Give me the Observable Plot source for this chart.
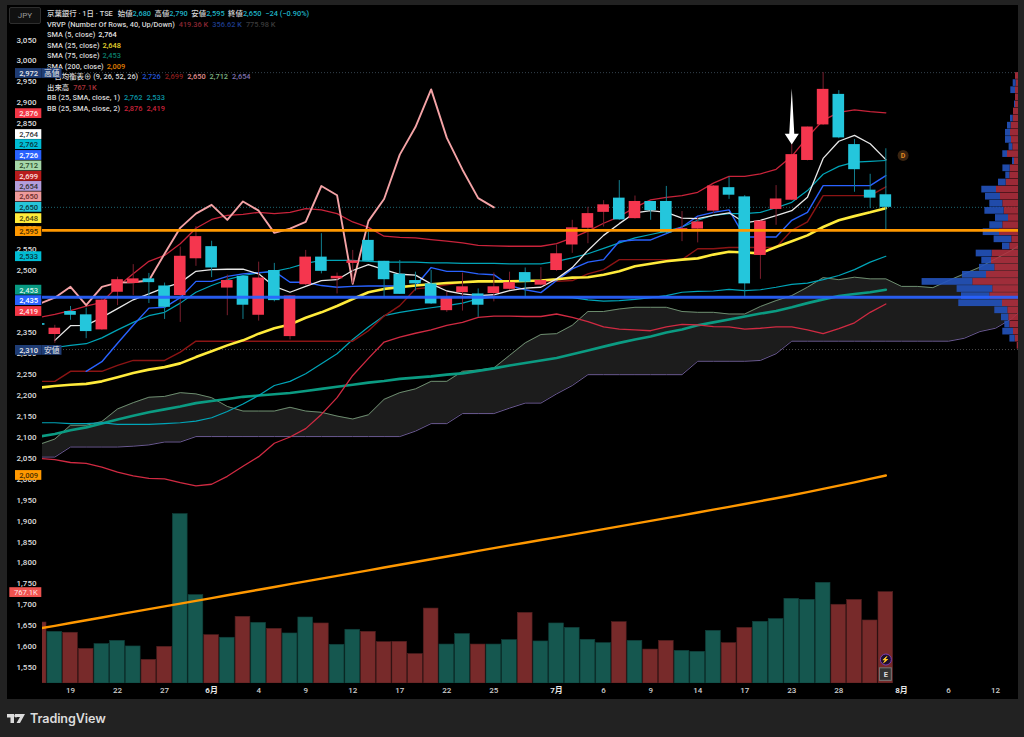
<!DOCTYPE html>
<html lang="ja">
<head>
<meta charset="utf-8">
<script src="https://cdn.jsdelivr.net/npm/d3@7"></script>
<script src="https://cdn.jsdelivr.net/npm/@observablehq/plot@0.6"></script>
<style>
html,body{margin:0;padding:0;background:#222;}
#page{position:relative;width:1024px;height:737px;overflow:hidden;background:#222;font-family:Roboto,"Noto Sans CJK JP","Noto Sans",sans-serif;}
#pane{position:absolute;left:7px;top:5px;width:1011px;height:694px;background:#000;}
#jpy{position:absolute;left:9px;top:7px;width:30px;height:15px;border:1px solid #2e2e2e;border-radius:2px;color:#9a9a9a;font-size:8px;line-height:15px;text-align:center;background:#111;}
#legend div{position:absolute;left:47px;font-size:7.4px;line-height:10px;color:#d8d8d8;white-space:pre;font-weight:500;}
#legend span{margin-left:3px;}
#chart{position:absolute;left:0;top:0;}
#chart svg{display:block;background:transparent;}
#logo{position:absolute;left:7px;top:709px;height:18px;display:flex;align-items:center;color:#dcdcdc;font-size:12.6px;font-weight:600;font-family:Inter,"Noto Sans",sans-serif;letter-spacing:-.1px;}
#logo svg{margin-right:5px;}
</style>
</head>
<body>
<div id="page">
  <div id="pane"></div>
  <div id="legend">
    <div style="top:9px">京葉銀行 · 1日 · TSE<span style="margin-left:5px">始値</span><span style="color:#1fb3c6;margin-left:0">2,680</span><span style="margin-left:3.5px">高値</span><span style="color:#1fb3c6;margin-left:0">2,790</span><span style="margin-left:3.5px">安値</span><span style="color:#1fb3c6;margin-left:0">2,595</span><span style="margin-left:3.5px">終値</span><span style="color:#1fb3c6;margin-left:0">2,650</span><span style="color:#1fb3c6;margin-left:4px">−24 (−0.90%)</span></div>
    <div style="top:19.5px">VRVP (Number Of Rows, 40, Up/Down)<span style="color:#8a2733;margin-left:4px">419.36 K</span><span style="color:#1e3c8c;margin-left:4px">356.62 K</span><span style="color:#3a3a3a;margin-left:4px">775.98 K</span></div>
    <div style="top:30px">SMA (5, close)<span style="color:#e8e8e8">2,764</span></div>
    <div style="top:40.5px">SMA (25, close)<span style="color:#e6d72e">2,648</span></div>
    <div style="top:51px">SMA (75, close)<span style="color:#0b7f6c">2,453</span></div>
    <div style="top:61.5px">SMA (200, close)<span style="color:#e07f00">2,009</span></div>
    <div style="top:72px">一目均衡表⊕ (9, 26, 52, 26)<span style="color:#2454d6;margin-left:4px">2,726</span><span style="color:#8c1d1d;margin-left:4px">2,699</span><span style="color:#e08e8e;margin-left:4px">2,650</span><span style="color:#7fb583;margin-left:4px">2,712</span><span style="color:#7f70ad;margin-left:4px">2,654</span></div>
    <div style="top:82.5px">出来高<span style="color:#a8323a;margin-left:4px">767.1K</span></div>
    <div style="top:93px">BB (25, SMA, close, 1)<span style="color:#0b95a6;margin-left:4px">2,762</span><span style="color:#0b95a6;margin-left:4px">2,533</span></div>
    <div style="top:103.5px">BB (25, SMA, close, 2)<span style="color:#c8233a;margin-left:4px">2,876</span><span style="color:#c8233a;margin-left:4px">2,419</span></div>
  </div>
  <div id="jpy">JPY</div>
  <div id="chart"></div>
  <div id="logo">
    <svg width="18" height="9" viewBox="0 0 36 18"><path d="M0 0h14v18h-7V7H0z M16 0h20l-10 18h-7l7-12h-10z" fill="#dcdcdc"/><circle cx="18" cy="3.5" r="3.5" fill="#dcdcdc"/></svg>
    TradingView
  </div>
</div>
<script>
// Bars: index 0 is the clipped bar at the left edge, 54 the last session
const opens = [2372,
  2346,2401,2393,2357,2447,2468,2479,2462,2439,2527,
  2556,2457,2485,2392,2499,2341,2465,2531,2479,2516,
  2571,2521,2490,2475,2467,2403,2446,2443,2444,2454,
  2494,2464,2499,2560,2600,2638,2672,2623,2664,2664,
  2594,2598,2641,2697,2675,2535,2645,2667,2762,2847,
  2920,2800,2691,2680];
const closes = [2368,
  2361,2392,2353,2428,2477,2479,2470,2411,2533,2580,
  2505,2475,2416,2481,2427,2438,2531,2497,2485,2522,
  2521,2477,2442,2467,2419,2434,2460,2416,2460,2470,
  2471,2475,2539,2601,2635,2656,2620,2664,2642,2589,
  2599,2615,2701,2679,2467,2617,2670,2776,2842,2932,
  2816,2740,2672,2650];
const highs = [2372,
  2368,2413,2409,2434,2483,2513,2492,2469,2555,2604,
  2569,2488,2485,2519,2516,2438,2547,2587,2493,2547,
  2591,2521,2523,2495,2499,2447,2493,2455,2493,2495,
  2505,2506,2560,2619,2650,2666,2714,2677,2664,2700,
  2640,2626,2702,2722,2678,2617,2702,2800,2842,2972,
  2929,2812,2729,2790];
const lows = [2368,
  2325,2380,2336,2356,2415,2439,2420,2382,2375,2509,
  2482,2391,2382,2378,2424,2333,2463,2491,2443,2467,
  2519,2435,2442,2450,2418,2399,2402,2387,2424,2451,
  2432,2462,2497,2540,2563,2603,2619,2622,2619,2587,
  2568,2565,2635,2669,2434,2478,2607,2666,2761,2846,
  2814,2686,2647,2595];

const sma5 = [null,2332,2367,2368,2387,2408,2429,2443,2458,2470,2497,2501,2502,2502,2491,2461,2447,2461,2475,2477,2499,2513,2501,2490,2488,2467,2450,2443,2439,2441,2451,2457,2459,2479,2506,2547,2583,2611,2637,2642,2638,2624,2623,2631,2637,2613,2619,2630,2642,2674,2767,2808,2822,2802,2764];
const sma25 = [2219,2223,2226,2228,2234,2244,2254,2262,2268,2277,2292,2306,2320,2332,2348,2361,2370,2386,2399,2414,2431,2447,2455,2459,2463,2466,2469,2471,2473,2473,2473,2474,2475,2478,2482,2483,2489,2497,2509,2515,2521,2525,2528,2537,2544,2542,2540,2555,2569,2583,2603,2619,2629,2638,2648];
const sma75 = [2102,2108,2117,2124,2133,2143,2152,2160,2167,2174,2182,2187,2192,2197,2200,2203,2206,2211,2216,2221,2226,2231,2235,2240,2243,2246,2250,2253,2259,2265,2272,2278,2284,2290,2299,2308,2317,2326,2334,2341,2351,2358,2368,2375,2382,2389,2396,2402,2411,2421,2430,2438,2443,2447,2453];
const sma200 = [1643,1649.6,1656.3,1662.9,1669.5,1676.2,1682.8,1689.4,1696,1702.7,1709.3,1715.9,1722.6,1729.2,1735.8,1742.5,1749.1,1755.7,1762.3,1769,1775.6,1782.2,1788.9,1795.5,1802.1,1808.8,1815.4,1822,1828.6,1835.3,1841.9,1848.3,1854.7,1861.1,1867.6,1874.1,1880.6,1887.2,1893.8,1900.4,1907,1913.7,1920.4,1927.2,1934,1940.8,1947.7,1954.6,1961.8,1969.2,1976.8,1984.6,1992.6,2000.8,2009];

const bbUp2 = [2387,2394,2403,2414,2423,2461,2491,2521,2535,2563,2600,2621,2631,2633,2638,2635,2638,2647,2644,2635,2615,2602,2581,2578,2577,2573,2569,2565,2559,2558,2557,2557,2557,2563,2577,2593,2612,2628,2650,2668,2674,2678,2686,2708,2724,2724,2730,2741,2772,2818,2858,2877,2883,2879,2876];
const bbLo2 = [2050,2047,2040,2038,2029,2017,2008,2002,2001,1992,1984,1988,2007,2031,2054,2086,2101,2121,2155,2195,2248,2289,2328,2340,2349,2357,2368,2375,2387,2390,2390,2389,2389,2395,2387,2377,2364,2359,2357,2355,2364,2370,2369,2365,2364,2359,2361,2364,2364,2357,2348,2360,2374,2399,2419];
const bbUp1 = [2313,2315,2320,2324,2338,2357,2375,2391,2399,2421,2447,2463,2477,2487,2493,2497,2505,2516,2523,2523,2523,2521,2519,2519,2519,2517,2517,2516,2516,2516,2515,2515,2515,2521,2529,2539,2552,2565,2577,2585,2593,2603,2619,2631,2635,2635,2638,2649,2662,2690,2729,2748,2758,2760,2762];
const bbLo1 = [2135,2135,2133,2133,2135,2131,2131,2131,2133,2135,2139,2147,2162,2180,2200,2224,2234,2252,2276,2300,2334,2364,2391,2399,2405,2410,2415,2421,2431,2436,2436,2435,2435,2435,2434,2429,2426,2427,2430,2434,2439,2447,2449,2450,2454,2451,2453,2459,2466,2469,2477,2487,2501,2519,2533];

const tenkan = [null,null,null,2258,2281,2325,2368,2409,2411,2434,2473,2473,2485,2491,2494,2497,2471,2471,2463,2459,2461,2462,2462,2462,2462,2506,2497,2497,2491,2489,2463,2453,2446,2475,2503,2519,2525,2569,2572,2572,2587,2603,2629,2638,2644,2579,2579,2579,2619,2638,2702,2702,2702,2702,2726];
const kijun = [2234,2234,2258,2258,2258,2272,2284,2284,2284,2304,2330,2330,2330,2330,2330,2330,2330,2330,2330,2330,2330,2355,2390,2415,2455,2459,2465,2470,2473,2473,2473,2473,2473,2473,2475,2491,2501,2525,2525,2525,2525,2525,2551,2551,2554,2554,2554,2554,2595,2615,2678,2678,2678,2678,2699];
const spanA = [2083,2096,2129,2129,2138,2168,2183,2196,2198,2207,2204,2195,2174,2163,2163,2163,2172,2163,2160,2151,2144,2154,2191,2207,2216,2234,2234,2258,2261,2266,2296,2326,2346,2348,2368,2401,2401,2407,2411,2411,2411,2401,2399,2399,2395,2395,2413,2427,2439,2459,2482,2477,2483,2479,2479,2461,2461,2458,2475,2491,2507,2527,2547,2571];
const spanB = [2053,2053,2077,2077,2077,2077,2079,2082,2089,2089,2102,2102,2102,2102,2102,2102,2102,2102,2102,2102,2102,2102,2102,2102,2115,2133,2133,2157,2157,2157,2170,2182,2182,2204,2224,2250,2250,2250,2250,2250,2250,2250,2282,2282,2282,2282,2284,2300,2330,2330,2330,2330,2330,2330,2330,2330,2330,2330,2330,2337,2353,2361,2383,2415];
// Lagging line: each session's close, drawn 25 bars earlier
const chikou = closes.slice(25);

// Volume in thousands, with its colour as shown on the volume pane
const volumes = [512,434,426,291,331,358,311,199,308,1422,742,406,384,560,509,459,420,554,504,325,451,434,347,350,247,629,327,415,327,327,364,593,353,504,467,367,339,515,358,285,358,274,266,442,339,467,518,541,711,702,845,661,702,529,767.1];
const volumeSides = "rtrrtttrrttrtrtrttrttrrrrrttrttrtttttrtrrtttrrtttttrrrr".split("");

// Visible-range volume profile, one entry per price row from the top
const vrvpUp = [3,2.3,3,3,3,5,5.3,7.3,8,7,5.7,11,4,8.3,8.7,12.3,22,18,15.7,14.3,10,15.7,19,6.7,8.7,26.3,27,23.7,32,45.7,25.7,28.7,16,10.7,9.7,8.7,5,3.3,1.3];
const vrvpDown = [0,3,4.7,0,1,0,2.7,3.7,5,6,3.7,4.7,2,7.3,4,7.7,14.7,15,13,19.3,13,13,16.3,17.7,7.3,16,9.7,15.3,24,50.7,35.7,28.3,43.7,13,7.3,5,10.7,5.3,0];
const vrvpTop = 2972, vrvpBottom = 2310;

// Labels the reference leaves fully hidden behind its price tags are not listed
const priceTicks = [3050,3000,2950,2900,2850,2600,2550,2500,2350,2300,2250,2200,2150,2100,2050,2000,1950,1900,1850,1800,1750,1700,1650,1600,1550];
const dayTickBars = [2,5,8,14,17,20,23,26,29,36,39,42,45,48,51,58,61];
const dayTickLabels = ["19","22","27","4","9","12","17","22","25","6","9","14","17","23","28","6","12"];
const monthTickBars = [11,33,55];
const monthTickLabels = ["6月","7月","8月"];

// Price tags on the left axis; "at" is where the tag sits after stacking
const tagLabels = ["2,972","2,876","2,764","2,762","2,726","2,712","2,699","2,654","2,650","2,650","2,648","2,595","2,533","2,453","2,435","2,419","2,310","2,009"];
const tagAt     = [2970,2874,2824,2800,2774,2749,2724,2700,2675,2650,2623,2592,2532,2452,2427,2401,2308,2009];
const tagFills  = ["#1f3c74","#f23645","#ffffff","#00bcd4","#2962ff","#a5d6a7","#b71c1c","#b39ddb","#ef9a9a","#26c6da","#ffeb3b","#ff9800","#00bcd4","#089981","#2962ff","#f23645","#1f3c74","#ff9800"];
const tagInks   = ["#e8e8e8","#ffe6e6","#333333","#08363d","#ffffff","#2a4a2a","#ffe0e0","#333333","#6a2d2d","#08363d","#4a4510","#4a2f00","#08363d","#d5f2ea","#ffffff","#ffe6e6","#e8e8e8","#4a2f00"];
const extremeTags = [{at:2970, text:"高値"},{at:2308, text:"安値"}];

const xDomain = [0.214, 62.46];
const yDomain = [1511.7, 3132.5];
const bars = d3.range(55);
const cloudBars = d3.range(64);
const isUp = i => closes[i] > opens[i];
const volumeTop = k => yDomain[0] + k * 0.2848;
const barSpan = 15.68;           // one bar in pixels, used to size profile rows
const rowStep = (vrvpTop - vrvpBottom) / vrvpUp.length;
const rows = d3.range(vrvpUp.length);

const line = (values, stroke, strokeWidth) =>
  Plot.line(values, {x: (d, i) => i, y: d => d, stroke, strokeWidth, clip: true, curve: "linear", strokeLinejoin: "round"});

const axisFont = {fontSize: 8, fontWeight: 500};
const tagRows = tagLabels.map((text, i) => ({text, at: tagAt[i], fill: tagFills[i], ink: tagInks[i]}));
const arrowOutline = [[48,2934],[48.16,2826],[48.45,2826],[48,2800],[47.55,2826],[47.84,2826]];

const chart = Plot.plot({
  width: 1024, height: 737,
  marginLeft: 42, marginRight: 6, marginTop: 5, marginBottom: 54,
  style: {background: "transparent", fontFamily: 'Roboto,"Noto Sans CJK JP","Noto Sans",sans-serif', overflow: "visible"},
  x: {type: "linear", domain: xDomain, label: null},
  y: {type: "linear", domain: yDomain, label: null},
  color: {type: "identity"},
  marks: [
    Plot.axisY({ticks: priceTicks, tickFormat: d3.format(","), anchor: "left", tickSize: 0, tickPadding: 6, label: null, fill: "#dddddd", ...axisFont}),
    Plot.axisX({ticks: dayTickBars, tickFormat: i => dayTickLabels[dayTickBars.indexOf(i)], anchor: "bottom", tickSize: 0, tickPadding: 4, label: null, fill: "#cfcfcf", ...axisFont}),
    Plot.axisX({ticks: monthTickBars, tickFormat: i => monthTickLabels[monthTickBars.indexOf(i)], anchor: "bottom", tickSize: 0, tickPadding: 4, label: null, fill: "#e6e6e6", fontSize: 8, fontWeight: 700}),

    Plot.ruleY([2972], {stroke: "#33404c", strokeDasharray: "1,2", clip: true}),
    Plot.ruleY([2650], {stroke: "#1c6470", strokeDasharray: "1,2", clip: true}),
    Plot.ruleY([2310], {stroke: "#4a4a4a", strokeDasharray: "1,2", clip: true}),

    // Volume pane, sitting on the same vertical axis
    Plot.rect(bars, {x1: i => i - 0.47, x2: i => i + 0.47, y1: () => yDomain[0], y2: i => volumeTop(volumes[i]),
      fill: i => volumeSides[i] === "r" ? "#772a2a" : "#15574f", stroke: i => volumeSides[i] === "r" ? "#4f1f1f" : "#103f3a", strokeWidth: 0.6, clip: true}),

    // Ichimoku cloud
    Plot.areaY(cloudBars, {x: i => i, y1: i => spanA[i], y2: i => spanB[i], fill: "#1c1c1c", clip: true}),
    line(spanB, "#6a5a90", 1),
    line(spanA, "#6c8c6e", 1),

    line(sma200, "#ff9800", 2.4),
    line(sma75, "#0b9b82", 2.6),
    line(bbLo2, "#d02a42", 1.3),
    line(bbUp2, "#c8233a", 1.3),
    line(bbLo1, "#00a5b8", 1.2),
    line(bbUp1, "#00a5b8", 1.2),
    line(kijun, "#8c1414", 1.4),
    line(tenkan, "#2962ff", 1.4),
    line(sma25, "#ffeb3b", 2.6),
    line(chikou, "#f4a3a6", 1.9),
    line(sma5, "#e8e8e8", 1.3),

    // Volume profile
    Plot.rect(rows, {x1: i => xDomain[1] - vrvpUp[i] / barSpan, x2: () => xDomain[1], y1: i => vrvpTop - i * rowStep, y2: i => vrvpTop - (i + 1) * rowStep, fill: "#b2303f", fillOpacity: 0.88, insetBottom: 0.4, clip: true}),
    Plot.rect(rows, {x1: i => xDomain[1] - (vrvpUp[i] + vrvpDown[i]) / barSpan, x2: i => xDomain[1] - vrvpUp[i] / barSpan, y1: i => vrvpTop - i * rowStep, y2: i => vrvpTop - (i + 1) * rowStep, fill: "#2453bd", fillOpacity: 0.9, insetBottom: 0.4, clip: true}),

    // Candles
    Plot.ruleX(bars, {x: i => i, y1: i => lows[i], y2: i => highs[i], stroke: i => isUp(i) ? "#7a1f2e" : "#127f8f", strokeWidth: 1, clip: true}),
    Plot.rect(bars, {x1: i => i - 0.37, x2: i => i + 0.37, y1: i => opens[i], y2: i => closes[i], fill: i => isUp(i) ? "#f5364e" : "#24c6dc", clip: true}),

    // Horizontal levels drawn by the author
    Plot.ruleY([2595], {stroke: "#ff9800", strokeWidth: 2.6, clip: true}),
    Plot.ruleY([2435], {stroke: "#2962ff", strokeWidth: 2.8, strokeOpacity: 0.92, clip: true}),

    // Annotation arrow
    Plot.line(arrowOutline, {x: d => d[0], y: d => d[1], fill: "#ffffff", stroke: "none"}),

    // Bar badges
    Plot.dot([0], {x: () => 55.1, y: () => 2774, r: 5.5, fill: "#3a2410", stroke: "none"}),
    Plot.text([0], {x: () => 55.1, y: () => 2774, text: () => "D", fill: "#e08a20", fontSize: 7, fontWeight: 700}),
    Plot.dot([0], {x: () => 54, y: () => 1569, r: 5.5, fill: "#1c0f2e", stroke: "#7b3fb5", strokeWidth: 1}),
    Plot.text([0], {x: () => 54, y: () => 1569, text: () => "⚡", fill: "#a765e0", fontSize: 7}),
    Plot.rect([0], {x1: () => 53.62, x2: () => 54.38, y1: () => 1518, y2: () => 1548, fill: "#333333", stroke: "#777777", strokeWidth: 1}),
    Plot.text([0], {x: () => 54, y: () => 1533, text: () => "E", fill: "#dddddd", fontSize: 7.5, fontWeight: 700}),

    // Axis tags
    Plot.rect(extremeTags, {x1: () => 0.17, x2: () => 1.458, y1: d => d.at - 11.7, y2: d => d.at + 11.7, fill: "#1f3c74"}),
    Plot.text(extremeTags, {x: () => 0.81, y: d => d.at, text: d => d.text, fill: "#e8e8e8", fontSize: 7.8}),
    Plot.rect(tagRows, {x1: () => -1.508, x2: () => 0.17, y1: d => d.at - 11.7, y2: d => d.at + 11.7, fill: d => d.fill}),
    Plot.text(tagRows, {x: () => -0.67, y: d => d.at, text: d => d.text, fill: d => d.ink, fontSize: 7.6, fontWeight: 500}),
    Plot.rect([1729], {x1: () => -1.87, x2: () => 0.17, y1: d => d - 11.7, y2: d => d + 11.7, fill: "#ef5350"}),
    Plot.text([1729], {x: () => -0.85, y: d => d, text: () => "767.1K", fill: "#ffe6e6", fontSize: 7.6})
  ]
});
document.getElementById("chart").appendChild(chart);
</script>
</body>
</html>
